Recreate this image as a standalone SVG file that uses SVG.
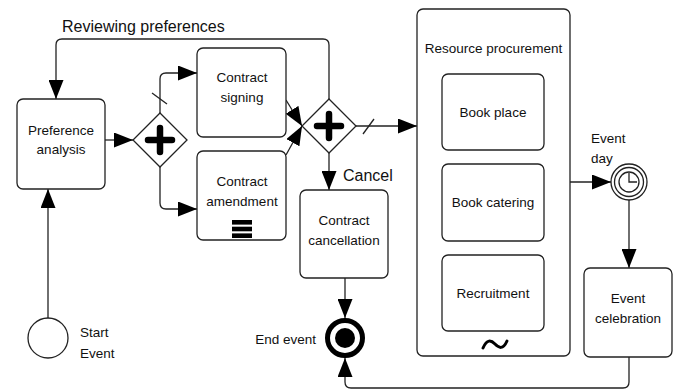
<svg xmlns="http://www.w3.org/2000/svg" width="679" height="391" viewBox="0 0 679 391">
  <defs>
    <style>
      .task { fill: #fff; stroke: #222; stroke-width: 1.3; }
      .gw { fill: #fff; stroke: #222; stroke-width: 1.3; }
      .plus { stroke: #000; stroke-width: 6.5; stroke-linecap: round; fill: none; }
      .flow { fill: none; stroke: #222; stroke-width: 1.3; marker-end: url(#arrow); }
      .tick { stroke: #222; stroke-width: 1.3; }
      .lbl { font-family: "Liberation Sans", Arial, sans-serif; font-size: 13.5px; fill: #111; }
      .mid { text-anchor: middle; }
      .big { font-size: 16px; }
    </style>
    <marker id="arrow" markerUnits="userSpaceOnUse" markerWidth="19" markerHeight="15" refX="19" refY="7.5" orient="auto">
      <path d="M0,0 L19,7.5 L0,15 Z" fill="#000"/>
    </marker>
  </defs>

  <rect width="679" height="391" fill="#fff"/>

  <!-- sequence flows -->
  <g id="connectors">
    <path class="flow" d="M48,318 V189"/>
    <path class="flow" d="M105,140 H133"/>
    <path class="flow" d="M160,113 V79 Q160,73 166,73 H197"/>
    <line class="tick" x1="152" y1="93" x2="167" y2="104"/>
    <path class="flow" d="M160,167 V203 Q160,209 166,209 H197"/>
    <path class="flow" d="M286,100 L302,126"/>
    <path class="flow" d="M286,155 L302,126"/>
    <path class="flow" d="M356,126 H417"/>
    <line class="tick" x1="363" y1="134" x2="374" y2="119"/>
    <path class="flow" d="M329,153 V190"/>
    <path class="flow" d="M329,99 V45 Q329,39 323,39 H62 Q56,39 56,45 V99"/>
    <path class="flow" d="M345,278 V318"/>
    <path class="flow" d="M570,182 H611"/>
    <path class="flow" d="M629,200 V268"/>
    <path class="flow" d="M629,357 V382 Q629,388 623,388 H351 Q345,388 345,382 V358"/>
    <text class="lbl big" x="62" y="32">Reviewing preferences</text>
    <text class="lbl big" x="343" y="181">Cancel</text>
  </g>

  <g id="start-event">
    <circle cx="48" cy="338" r="20" fill="#fff" stroke="#222" stroke-width="1.3"/>
    <text class="lbl" x="80" y="337">Start</text>
    <text class="lbl" x="80" y="358">Event</text>
  </g>

  <g id="preference-analysis">
    <rect class="task" x="17" y="99" width="88" height="90" rx="6"/>
    <text class="lbl mid" x="61" y="135">Preference</text>
    <text class="lbl mid" x="61" y="154">analysis</text>
  </g>

  <g id="split-gateway">
    <path class="gw" d="M160,113 L187,140 L160,167 L133,140 Z"/>
    <path class="plus" d="M160,128 V152 M148,140 H172"/>
  </g>

  <g id="contract-signing">
    <rect class="task" x="197" y="48" width="89" height="89" rx="6"/>
    <text class="lbl mid" x="242" y="82">Contract</text>
    <text class="lbl mid" x="242" y="102">signing</text>
  </g>

  <g id="contract-amendment">
    <rect class="task" x="197" y="151" width="89" height="89" rx="6"/>
    <text class="lbl mid" x="242" y="186">Contract</text>
    <text class="lbl mid" x="242" y="206">amendment</text>
    <rect x="232" y="220" width="20" height="4.6" fill="#000"/>
    <rect x="232" y="226.7" width="20" height="4.6" fill="#000"/>
    <rect x="232" y="233.4" width="20" height="4.6" fill="#000"/>
  </g>

  <g id="join-gateway">
    <path class="gw" d="M329,99 L356,126 L329,153 L302,126 Z"/>
    <path class="plus" d="M329,114 V138 M317,126 H341"/>
  </g>

  <g id="contract-cancellation">
    <rect class="task" x="300" y="190" width="88" height="88" rx="6"/>
    <text class="lbl mid" x="344" y="225">Contract</text>
    <text class="lbl mid" x="344" y="245">cancellation</text>
  </g>

  <g id="end-event">
    <circle cx="345" cy="338" r="17.5" fill="#fff" stroke="#000" stroke-width="5"/>
    <circle cx="345" cy="338" r="10" fill="#000"/>
    <text class="lbl" x="316" y="344" text-anchor="end">End event</text>
  </g>

  <g id="resource-procurement">
    <rect class="task" x="417" y="9" width="153" height="347" rx="6"/>
    <text class="lbl mid" x="493.5" y="53">Resource procurement</text>
    <path d="M483,348 C487,339 491,340 495,344 S503,350 507,341" fill="none" stroke="#000" stroke-width="3" stroke-linecap="round"/>
  </g>

  <g id="book-place">
    <rect class="task" x="442" y="74" width="102" height="76" rx="6"/>
    <text class="lbl mid" x="493" y="117">Book place</text>
  </g>

  <g id="book-catering">
    <rect class="task" x="442" y="164" width="102" height="77" rx="6"/>
    <text class="lbl mid" x="493" y="207">Book catering</text>
  </g>

  <g id="recruitment">
    <rect class="task" x="442" y="255" width="102" height="76" rx="6"/>
    <text class="lbl mid" x="493" y="298">Recruitment</text>
  </g>

  <g id="event-day">
    <circle cx="629" cy="182" r="18" fill="#fff" stroke="#222" stroke-width="1.3"/>
    <circle cx="629" cy="182" r="14.5" fill="none" stroke="#222" stroke-width="1.3"/>
    <circle cx="629" cy="182" r="10" fill="none" stroke="#222" stroke-width="1.3"/>
    <path d="M629,173 V182 H637" fill="none" stroke="#222" stroke-width="1.3"/>
    <text class="lbl" x="591" y="143">Event</text>
    <text class="lbl" x="591" y="163">day</text>
  </g>

  <g id="event-celebration">
    <rect class="task" x="584" y="268" width="88" height="89" rx="6"/>
    <text class="lbl mid" x="628" y="303">Event</text>
    <text class="lbl mid" x="628" y="323">celebration</text>
  </g>
</svg>
